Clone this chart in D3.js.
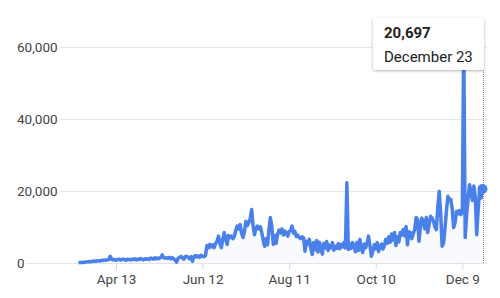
<!DOCTYPE html>
<html>
<head>
<meta charset="utf-8">
<script src="https://cdn.jsdelivr.net/npm/d3@7"></script>
<style>
  body { margin: 0; background: #fff; }
  svg { display: block; font-family: Roboto, sans-serif; }
</style>
</head>
<body>
<svg id="chart" width="500" height="298"></svg>
<script>
// daily values, first day = startDay
const startDay = "2020-03-18";
const cases = [
  200, 250, 300, 350, 300, 400, 450, 500, 550, 500,
  650, 700, 600, 750, 800, 700, 900, 850, 1000, 900,
  1000, 1100, 2000, 1200, 1000, 1100, 900, 1100, 1200, 1000,
  1100, 1200, 1100, 900, 1200, 1100, 1000, 1200, 1100, 1300,
  1000, 1200, 1100, 1400, 1200, 1000, 1300, 1200, 1300, 1100,
  1500, 1400, 1200, 1600, 1300, 1500, 1400, 1700, 2400, 1600,
  1500, 1600, 1400, 1700, 1300, 1600, 1300, 900, 400, 1400,
  1700, 2000, 1600, 1200, 1900, 2000, 1700, 1300, 1900, 600,
  1900, 2200, 1800, 2100, 1700, 2300, 2000, 1900, 2200, 5000,
  4300, 5300, 4600, 5200, 4400, 5500, 6200, 7600, 5500, 4400,
  6800, 8600, 6900, 5300, 7800, 7200, 7600, 6900, 7500, 9200,
  10400, 9600, 10800, 8500, 7200, 8800, 11700, 10500, 11300, 12500,
  15000, 10500, 8000, 9800, 10400, 9600, 10200, 8600, 6500, 4800,
  6900, 5200, 9500, 12800, 10200, 5300, 7800, 5600, 8200, 9300,
  8500, 9600, 7900, 9000, 8600, 7600, 8800, 9200, 10400, 8400,
  8900, 7500, 7800, 7200, 6900, 7400, 7100, 3400, 6200, 5400,
  6700, 4300, 2500, 5800, 3800, 6400, 3200, 5900, 4100, 2600,
  5600, 4300, 6100, 3600, 5100, 4400, 5800, 3700, 4800, 4200,
  5500, 4100, 5300, 4600, 5800, 4300, 22400, 3900, 5500, 4200,
  5800, 4600, 3300, 5900, 3600, 6700, 4200, 3100, 5400, 4400,
  5600, 7600, 4900, 2000, 3400, 5200, 4100, 5800, 3300, 4700,
  5400, 4000, 5100, 6700, 5600, 7400, 5900, 8200, 6500, 8600,
  5000, 7400, 6000, 8600, 7900, 9400, 7700, 10300, 5200, 8800,
  8600, 6900, 8300, 9400, 12800, 12300, 6200, 10400, 12600, 11400,
  9600, 12800, 8600, 10800, 13100, 12600, 11800, 10200, 9400, 15500,
  20100, 14000, 4800, 5600, 9800, 14600, 18700, 17500, 17800, 15200,
  10000, 11400, 14500, 13800, 14700, 13600, 14200, 62000, 7200, 13500,
  18000, 21900, 19700, 17500, 21500, 18600, 8000, 15000, 20500, 18200,
  20697
];
const yTicks = [0, 20000, 40000, 60000];
const xTicks = ["2020-04-13", "2020-06-12", "2020-08-11", "2020-10-10", "2020-12-09"];

const parse = d3.timeParse("%Y-%m-%d");
const days = cases.map((v, i) => d3.timeDay.offset(parse(startDay), i));
const data = days.map((d, i) => ({ day: d, value: cases[i] }));
const last = data[data.length - 1];

const svg = d3.select("#chart");
const blue = "#4a80ea";

const x = d3.scaleTime().domain([days[0], last.day]).range([78.5, 482.5]);
const y = d3.scaleLinear().domain([0, 60000]).range([263.5, 47.5]);

// gridlines + y labels
const grid = svg.append("g");
grid.selectAll("line")
  .data(yTicks)
  .enter()
  .append("line")
  .attr("x1", 17).attr("x2", 487)
  .attr("y1", d => y(d)).attr("y2", d => y(d))
  .attr("stroke", "#e6e6e6");

const ylab = grid.selectAll("g.ylab")
  .data(yTicks)
  .enter()
  .append("g")
  .classed("ylab", true);
ylab.append("rect").attr("fill", "#fff");
ylab.append("text")
  .attr("x", 17)
  .attr("y", d => y(d))
  .attr("dy", "0.35em")
  .attr("font-size", "13.5px")
  .attr("fill", "#444")
  .text(d => d3.format(",")(d));
ylab.each(function () {
  const b = d3.select(this).select("text").node().getBBox();
  d3.select(this).select("rect")
    .attr("x", b.x - 1).attr("y", b.y)
    .attr("width", b.width + 3).attr("height", b.height);
});

// x axis
const xAxis = svg.append("g")
  .attr("transform", "translate(0,263.5)")
  .call(d3.axisBottom(x)
    .tickValues(xTicks.map(parse))
    .tickFormat(d3.timeFormat("%b %-d"))
    .tickSizeInner(6).tickSizeOuter(0).tickPadding(5));
xAxis.select(".domain").remove();
xAxis.selectAll("line").attr("stroke", "#d9d9d9");
xAxis.selectAll("text")
  .attr("font-family", "Roboto, sans-serif")
  .attr("font-size", "13.5px")
  .attr("fill", "#444");

// area + line
svg.append("path")
  .datum(data)
  .attr("fill", blue)
  .attr("fill-opacity", 0.04)
  .attr("d", d3.area().x(d => x(d.day)).y0(y(0)).y1(d => y(d.value)));

svg.append("path")
  .datum(data)
  .attr("fill", "none")
  .attr("stroke", blue)
  .attr("stroke-width", 3.5)
  .attr("stroke-linejoin", "round")
  .attr("d", d3.line().x(d => x(d.day)).y(d => y(d.value)));

// hover marker
svg.append("line")
  .attr("x1", Math.round(x(last.day)) + 0.5).attr("x2", Math.round(x(last.day)) + 0.5)
  .attr("y1", 70).attr("y2", y(0))
  .attr("stroke", "#888")
  .attr("stroke-dasharray", "1,1");

svg.append("circle")
  .attr("cx", x(last.day))
  .attr("cy", y(last.value))
  .attr("r", 5)
  .attr("fill", blue);

// tooltip
const defs = svg.append("defs");
const f = defs.append("filter").attr("id", "shadow")
  .attr("x", "-20%").attr("y", "-30%").attr("width", "140%").attr("height", "160%");
f.append("feDropShadow")
  .attr("dx", 0).attr("dy", 1).attr("stdDeviation", 1.5)
  .attr("flood-color", "#000").attr("flood-opacity", 0.3);

const tip = svg.append("g").attr("transform", "translate(373,18)");
tip.append("rect")
  .attr("width", 111).attr("height", 52)
  .attr("rx", 2)
  .attr("fill", "#fff")
  .attr("filter", "url(#shadow)");
tip.append("text")
  .attr("x", 11).attr("y", 20)
  .attr("font-size", "15px")
  .attr("font-weight", "bold")
  .attr("fill", "#222")
  .text(d3.format(",")(last.value));
tip.append("text")
  .attr("x", 11).attr("y", 44)
  .attr("font-size", "15px")
  .attr("fill", "#222")
  .text(d3.timeFormat("%B %-d")(last.day));
</script>
</body>
</html>
